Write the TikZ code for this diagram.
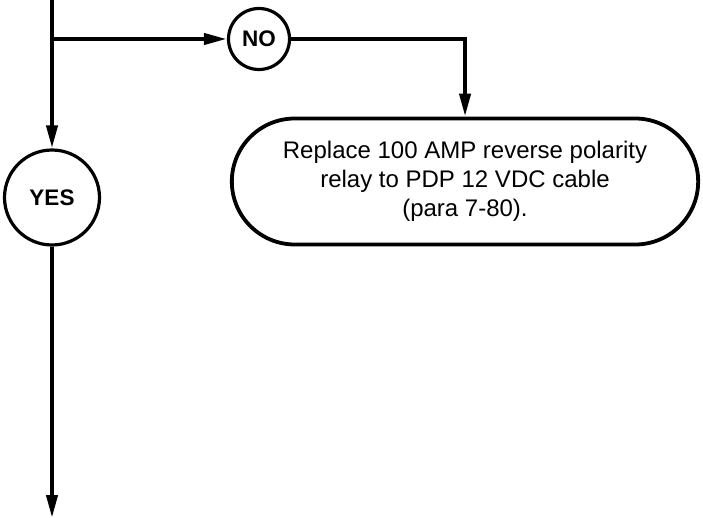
\documentclass[tikz,border=0pt]{standalone}
\usepackage{fontspec}
\setmainfont{Liberation Sans}
\usetikzlibrary{arrows.meta,shapes.misc}

\begin{document}
\begin{tikzpicture}[
    x=1pt, y=-1pt,
    decision/.style={draw, line width=3.2pt, circle, inner sep=0pt, font=\bfseries\fontsize{22.5}{27}\selectfont},
    endblock/.style={draw, line width=3.8pt, rounded rectangle, align=center, minimum width=473pt, minimum height=126pt, font=\fontsize{24}{29}\selectfont},
    line/.style={draw, line width=4pt, -{Triangle[length=23pt,width=11pt]}}
]
\useasboundingbox (0,0) rectangle (703,518);

\coordinate (top) at (52,0);
\coordinate (split) at (52,39);
\coordinate (bottom) at (52,518);

\node[decision, minimum size=61pt] (no) at (259,39) {NO};
\node[decision, minimum size=95pt] (yes) at (52,197.5) {YES};
\node[endblock] (replace) at (465,181.5) {Replace 100 AMP reverse polarity\\relay to PDP 12 VDC cable\\(para 7-80).};

\draw[line] (top) -- (yes);
\draw[line] (yes) -- (bottom);
\draw[line] (split) -- (no);
\draw[line] (no) -| (replace);

\end{tikzpicture}
\end{document}
